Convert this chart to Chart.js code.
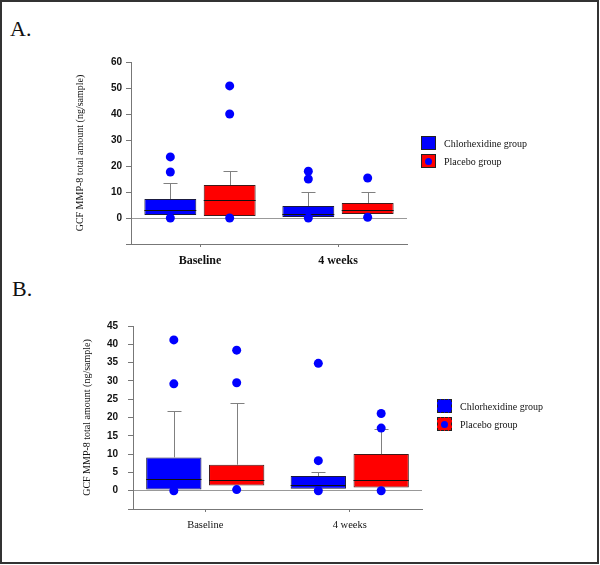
<!DOCTYPE html>
<html>
<head>
<meta charset="utf-8">
<script src="https://cdn.jsdelivr.net/npm/chart.js@4.4.1/dist/chart.umd.min.js"></script>
<style>
  body { margin: 0; background: #fff; }
  #page { position: relative; width: 600px; height: 565px; overflow: hidden; }
  #frame { position: absolute; left: 0; top: 0; width: 599px; height: 564px; border: 2px solid #333; box-sizing: border-box; }
  .panel { position: absolute; left: 0; width: 600px; }
  .tag { position: absolute; font: 22px "Liberation Serif", "Times New Roman", serif; line-height: 22px; color: #111; }
  .leg { position: absolute; font: 10px "Liberation Serif", "Times New Roman", serif; color: #111; }
  .leg div.row { display: flex; align-items: center; height: 18px; }
  .sw { width: 15px; height: 14px; box-sizing: border-box; border: 1px solid #222; margin-right: 8px; position: relative; }
  .sw.dash { border: 1px dashed #222; }
  .dot { position: absolute; left: 3px; top: 2.5px; width: 7px; height: 7px; border-radius: 50%; background: #0000ff; }
</style>
</head>
<body>
<div id="page">
  <div class="tag" style="left:10px; top:18px;">A.</div>
  <div class="tag" style="left:12px; top:278px;">B.</div>
  <div class="panel" style="top:0; height:285px;"><canvas id="chartA" width="600" height="285"></canvas></div>
  <div class="panel" style="top:290px; height:275px;"><canvas id="chartB" width="600" height="275"></canvas></div>

  <div class="leg" style="left:421px; top:134px;">
    <div class="row"><span class="sw" style="background:#0000ff"></span>Chlorhexidine group</div>
    <div class="row"><span class="sw" style="background:#ff0000"><span class="dot"></span></span>Placebo group</div>
  </div>
  <div class="leg" style="left:437px; top:397px;">
    <div class="row"><span class="sw dash" style="background:#0000ff"></span>Chlorhexidine group</div>
    <div class="row"><span class="sw dash" style="background:#ff0000"><span class="dot"></span></span>Placebo group</div>
  </div>
  <div id="frame"></div>
</div>

<script>
// categories
var times = ["Baseline", "4 weeks"];

// Panel A - box [q1, q3], median, upper whisker, outliers
var chxBoxA = [[1.2, 7.3], [0.4, 4.6]];
var chxMedA = [3, 1.5];
var chxWhiskA = [13.5, 10];
var chxOutA = [[23.5, 17.7, 0], [18, 15, 0]];
var plaBoxA = [[0.8, 12.7], [1.5, 5.8]];
var plaMedA = [6.9, 3];
var plaWhiskA = [18, 10];
var plaOutA = [[50.8, 40, 0], [15.4, 0.3]];

// Panel B
var chxBoxB = [[0.3, 9.1], [0.5, 4.0]];
var chxMedB = [3.3, 1.6];
var chxWhiskB = [21.7, 5.0];
var chxOutB = [[41.2, 29.2, 0], [34.8, 8.2, 0]];
var plaBoxB = [[1.4, 7.1], [0.9, 10]];
var plaMedB = [3.0, 3.0];
var plaWhiskB = [24, 16.8];
var plaOutB = [[38.4, 29.5, 0.3], [21.1, 17.1, 0]];

var yTitle = "GCF MMP-8 total amount (ng/sample)";

// draws median line + whisker with cap for each box
var boxExtras = {
  id: 'boxExtras',
  afterDatasetDraw: function(chart, args) {
    var ds = chart.data.datasets[args.index];
    if (!ds.medians) return;
    var ctx = chart.ctx, y = chart.scales.y;
    args.meta.data.forEach(function(bar, i) {
      var half = bar.width / 2;
      var top = y.getPixelForValue(ds.data[i][1]);
      var wy = Math.round(y.getPixelForValue(ds.whiskers[i])) + 0.5;
      var bx = Math.round(bar.x) + 0.5;
      ctx.save();
      ctx.strokeStyle = '#808080';
      ctx.lineWidth = 1;
      ctx.beginPath();
      ctx.moveTo(bx, top);
      ctx.lineTo(bx, wy);
      ctx.moveTo(bx - 7, wy);
      ctx.lineTo(bx + 7, wy);
      ctx.stroke();
      var my = Math.round(y.getPixelForValue(ds.medians[i])) + 0.5;
      ctx.strokeStyle = '#111';
      ctx.beginPath();
      ctx.moveTo(bar.x - half, my);
      ctx.lineTo(bar.x + half, my);
      ctx.stroke();
      ctx.restore();
    });
  }
};

function outlierPoints(outs, off) {
  var pts = [];
  outs.forEach(function(list, i) {
    list.forEach(function(v) { pts.push({ x: i + off, y: v }); });
  });
  return pts;
}

function makeChart(id, cfg) {
  var catPct = cfg.catPct;
  var off = catPct / 4;
  // the bar ruler here works off half the category spacing, so the share is doubled
  var barCat = catPct * 2;
  return new Chart(document.getElementById(id), {
    type: 'bar',
    data: {
      labels: times,
      datasets: [
        { type: 'scatter', xAxisID: 'xp', data: outlierPoints(cfg.chxOut, -off), backgroundColor: '#0000ff', borderWidth: 0, pointRadius: 4.5, order: 0 },
        { type: 'scatter', xAxisID: 'xp', data: outlierPoints(cfg.plaOut, off), backgroundColor: '#0000ff', borderWidth: 0, pointRadius: 4.5, order: 0 },
        { label: 'Chlorhexidine group', data: cfg.chxBox, medians: cfg.chxMed, whiskers: cfg.chxWhisk,
          backgroundColor: '#0000ff', borderColor: '#1a1a40', borderWidth: 1, borderSkipped: false,
          categoryPercentage: barCat, barPercentage: cfg.barPct, order: 1 },
        { label: 'Placebo group', data: cfg.plaBox, medians: cfg.plaMed, whiskers: cfg.plaWhisk,
          backgroundColor: '#ff0000', borderColor: '#401a1a', borderWidth: 1, borderSkipped: false,
          categoryPercentage: barCat, barPercentage: cfg.barPct, order: 1 }
      ]
    },
    options: {
      responsive: false,
      animation: false,
      layout: { padding: cfg.padding },
      plugins: { legend: { display: false }, tooltip: { enabled: false } },
      scales: {
        x: {
          type: 'category',
          offset: true,
          afterFit: function(s) { s.height = 30; },
          grid: { offset: false, drawOnChartArea: false, tickLength: 3, tickColor: '#777' },
          border: { color: '#777' },
          ticks: { padding: cfg.xPad, color: '#111', font: cfg.xFont }
        },
        xp: { type: 'linear', display: false, offset: false, min: -0.5, max: 1.5 },
        y: {
          min: cfg.yMin, max: cfg.yMax,
          afterFit: function(s) { s.width = cfg.yWidth; },
          grid: {
            color: function(c) { return c.tick && c.tick.value === 0 ? '#999' : 'rgba(0,0,0,0)'; },
            tickLength: 5, tickColor: '#777'
          },
          border: { color: '#777' },
          ticks: {
            stepSize: cfg.step, padding: cfg.yPad, color: '#111',
            font: { family: 'Liberation Sans', size: 10, weight: 'bold' },
            callback: function(v) { return (v >= 0 && v % cfg.labelStep === 0) ? v : ''; }
          },
          title: { display: true, text: yTitle, color: '#111', font: { family: 'Liberation Serif', size: 10 } }
        }
      }
    },
    plugins: [boxExtras]
  });
}

makeChart('chartA', {
  chxBox: chxBoxA, chxMed: chxMedA, chxWhisk: chxWhiskA, chxOut: chxOutA,
  plaBox: plaBoxA, plaMed: plaMedA, plaWhisk: plaWhiskA, plaOut: plaOutA,
  catPct: 0.86, barPct: 0.875,
  padding: { left: 70, right: 193, top: 62, bottom: 11 },
  yWidth: 61, yPad: 4, xPad: 7,
  xFont: { family: 'Liberation Serif', size: 12, weight: 'bold' },
  yMin: -10, yMax: 60, step: 5, labelStep: 10
});

makeChart('chartB', {
  chxBox: chxBoxB, chxMed: chxMedB, chxWhisk: chxWhiskB, chxOut: chxOutB,
  plaBox: plaBoxB, plaMed: plaMedB, plaWhisk: plaWhiskB, plaOut: plaOutB,
  catPct: 0.87, barPct: 0.88,
  padding: { left: 77, right: 178, top: 36, bottom: 26 },
  yWidth: 56, yPad: 10, xPad: 7,
  xFont: { family: 'Liberation Serif', size: 10.5 },
  yMin: -5, yMax: 45, step: 2.5, labelStep: 5
});
</script>
</body>
</html>
